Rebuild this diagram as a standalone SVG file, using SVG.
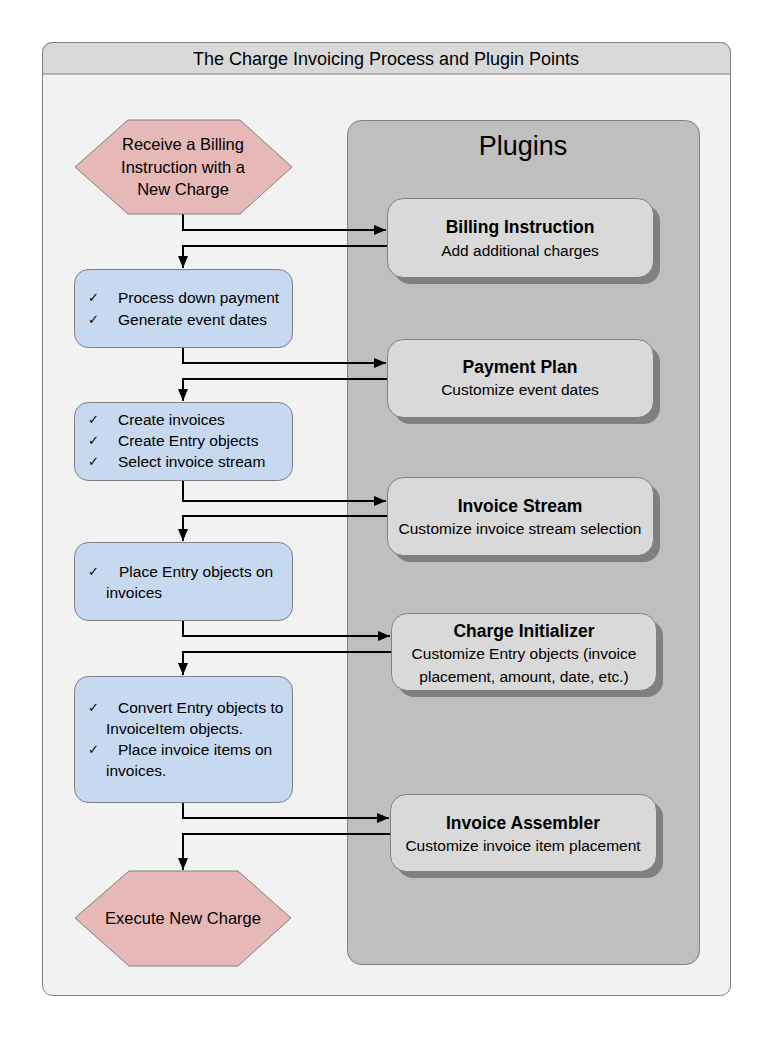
<svg xmlns="http://www.w3.org/2000/svg" width="774" height="1038" viewBox="0 0 774 1038">
<defs>
<marker id="ah" markerUnits="userSpaceOnUse" markerWidth="13" markerHeight="11" refX="12" refY="5" orient="auto">
<path d="M0,0 L12,5 L0,10 Z" fill="#000"/>
</marker>
<style>
text{font-family:"Liberation Sans",Arial,sans-serif;fill:#000}
.t{font-size:18px;text-anchor:middle}
.h{font-size:16.5px;text-anchor:middle}
.b{font-size:15.5px}
.ck{font-family:"DejaVu Sans",sans-serif;font-size:13px}
.pt{font-size:17.5px;font-weight:bold;text-anchor:middle}
.ps{font-size:15.5px;text-anchor:middle}
.hex{fill:#e6b8b7;stroke:#808080;stroke-width:1}
.blue{fill:#c6d9f1;stroke:#808080;stroke-width:1}
.pbox{fill:#d9d9d9;stroke:#808080;stroke-width:1}
.shadow{fill:#808080}
.conn path{fill:none;stroke:#000;stroke-width:2;marker-end:url(#ah)}
</style>
</defs>
<g id="frame">
<rect x="42.5" y="42.5" width="688" height="953" rx="10" fill="#f2f2f2" stroke="#808080"/>
<path d="M42.5,74 V52.5 A10,10 0 0 1 52.5,42.5 H720.5 A10,10 0 0 1 730.5,52.5 V74 Z" fill="#d9d9d9" stroke="#808080"/>
<text class="t" x="386" y="65">The Charge Invoicing Process and Plugin Points</text>
</g>
<g id="plugins-panel">
<rect x="347.5" y="120.5" width="352" height="844" rx="14" fill="#bfbfbf" stroke="#808080"/>
<text x="523" y="155" font-size="27" text-anchor="middle">Plugins</text>
</g>
<g class="conn" id="connectors">
<path d="M183,214 V230 H386"/>
<path d="M387,246 H183 V268"/>
<path d="M183,347 V363 H386"/>
<path d="M387,379 H183 V401"/>
<path d="M183,480 V501 H386"/>
<path d="M387,516 H183 V541"/>
<path d="M183,620 V636 H390"/>
<path d="M391,652 H183 V675"/>
<path d="M183,802 V818 H389"/>
<path d="M390,834 H183 V870"/>
</g>
<g id="start">
<polygon class="hex" points="75,167 128,120 240,120 292,167 240,214 128,214"/>
<text class="h" x="183" y="150">Receive a Billing</text>
<text class="h" x="183" y="173">Instruction with a</text>
<text class="h" x="183" y="195">New Charge</text>
</g>
<g id="step1">
<rect class="blue" x="74.5" y="269.5" width="218" height="78" rx="14"/>
<text class="ck" x="88" y="302">✓</text><text class="b" x="118" y="303">Process down payment</text>
<text class="ck" x="88" y="324">✓</text><text class="b" x="118" y="325">Generate event dates</text>
</g>
<g id="step2">
<rect class="blue" x="74.5" y="402.5" width="218" height="78" rx="14"/>
<text class="ck" x="88" y="424">✓</text><text class="b" x="118" y="425">Create invoices</text>
<text class="ck" x="88" y="445">✓</text><text class="b" x="118" y="446">Create Entry objects</text>
<text class="ck" x="88" y="466">✓</text><text class="b" x="118" y="467">Select invoice stream</text>
</g>
<g id="step3">
<rect class="blue" x="74.5" y="542.5" width="218" height="78" rx="14"/>
<text class="ck" x="88" y="576">✓</text><text class="b" x="119" y="577">Place Entry objects on</text>
<text class="b" x="106" y="598">invoices</text>
</g>
<g id="step4">
<rect class="blue" x="74.5" y="676.5" width="218" height="126" rx="14"/>
<text class="ck" x="88" y="712">✓</text><text class="b" x="118" y="713">Convert Entry objects to</text>
<text class="b" x="106" y="734">InvoiceItem objects.</text>
<text class="ck" x="88" y="754">✓</text><text class="b" x="118" y="755">Place invoice items on</text>
<text class="b" x="106" y="776">invoices.</text>
</g>
<g id="end">
<polygon class="hex" points="75,918 129,871 238,871 291,918 238,966 129,966"/>
<text class="h" x="183" y="924">Execute New Charge</text>
</g>
<g id="plugin-billing">
<rect class="shadow" x="394" y="205" width="266" height="79" rx="16"/>
<rect class="pbox" x="387.5" y="198.5" width="266" height="79" rx="16"/>
<text class="pt" x="520" y="233">Billing Instruction</text>
<text class="ps" x="520" y="256">Add additional charges</text>
</g>
<g id="plugin-payment">
<rect class="shadow" x="394" y="346" width="266" height="78" rx="16"/>
<rect class="pbox" x="387.5" y="339.5" width="266" height="78" rx="16"/>
<text class="pt" x="520" y="373">Payment Plan</text>
<text class="ps" x="520" y="395">Customize event dates</text>
</g>
<g id="plugin-stream">
<rect class="shadow" x="394" y="484" width="266" height="78" rx="16"/>
<rect class="pbox" x="387.5" y="477.5" width="266" height="78" rx="16"/>
<text class="pt" x="520" y="512">Invoice Stream</text>
<text class="ps" x="520" y="534">Customize invoice stream selection</text>
</g>
<g id="plugin-initializer">
<rect class="shadow" x="398" y="620" width="265" height="77" rx="16"/>
<rect class="pbox" x="391.5" y="613.5" width="265" height="77" rx="16"/>
<text class="pt" x="524" y="637">Charge Initializer</text>
<text class="ps" x="524" y="659">Customize Entry objects (invoice</text>
<text class="ps" x="524" y="682">placement, amount, date, etc.)</text>
</g>
<g id="plugin-assembler">
<rect class="shadow" x="397" y="801" width="266" height="77" rx="16"/>
<rect class="pbox" x="390.5" y="794.5" width="266" height="77" rx="16"/>
<text class="pt" x="523" y="829">Invoice Assembler</text>
<text class="ps" x="523" y="851">Customize invoice item placement</text>
</g>
</svg>
